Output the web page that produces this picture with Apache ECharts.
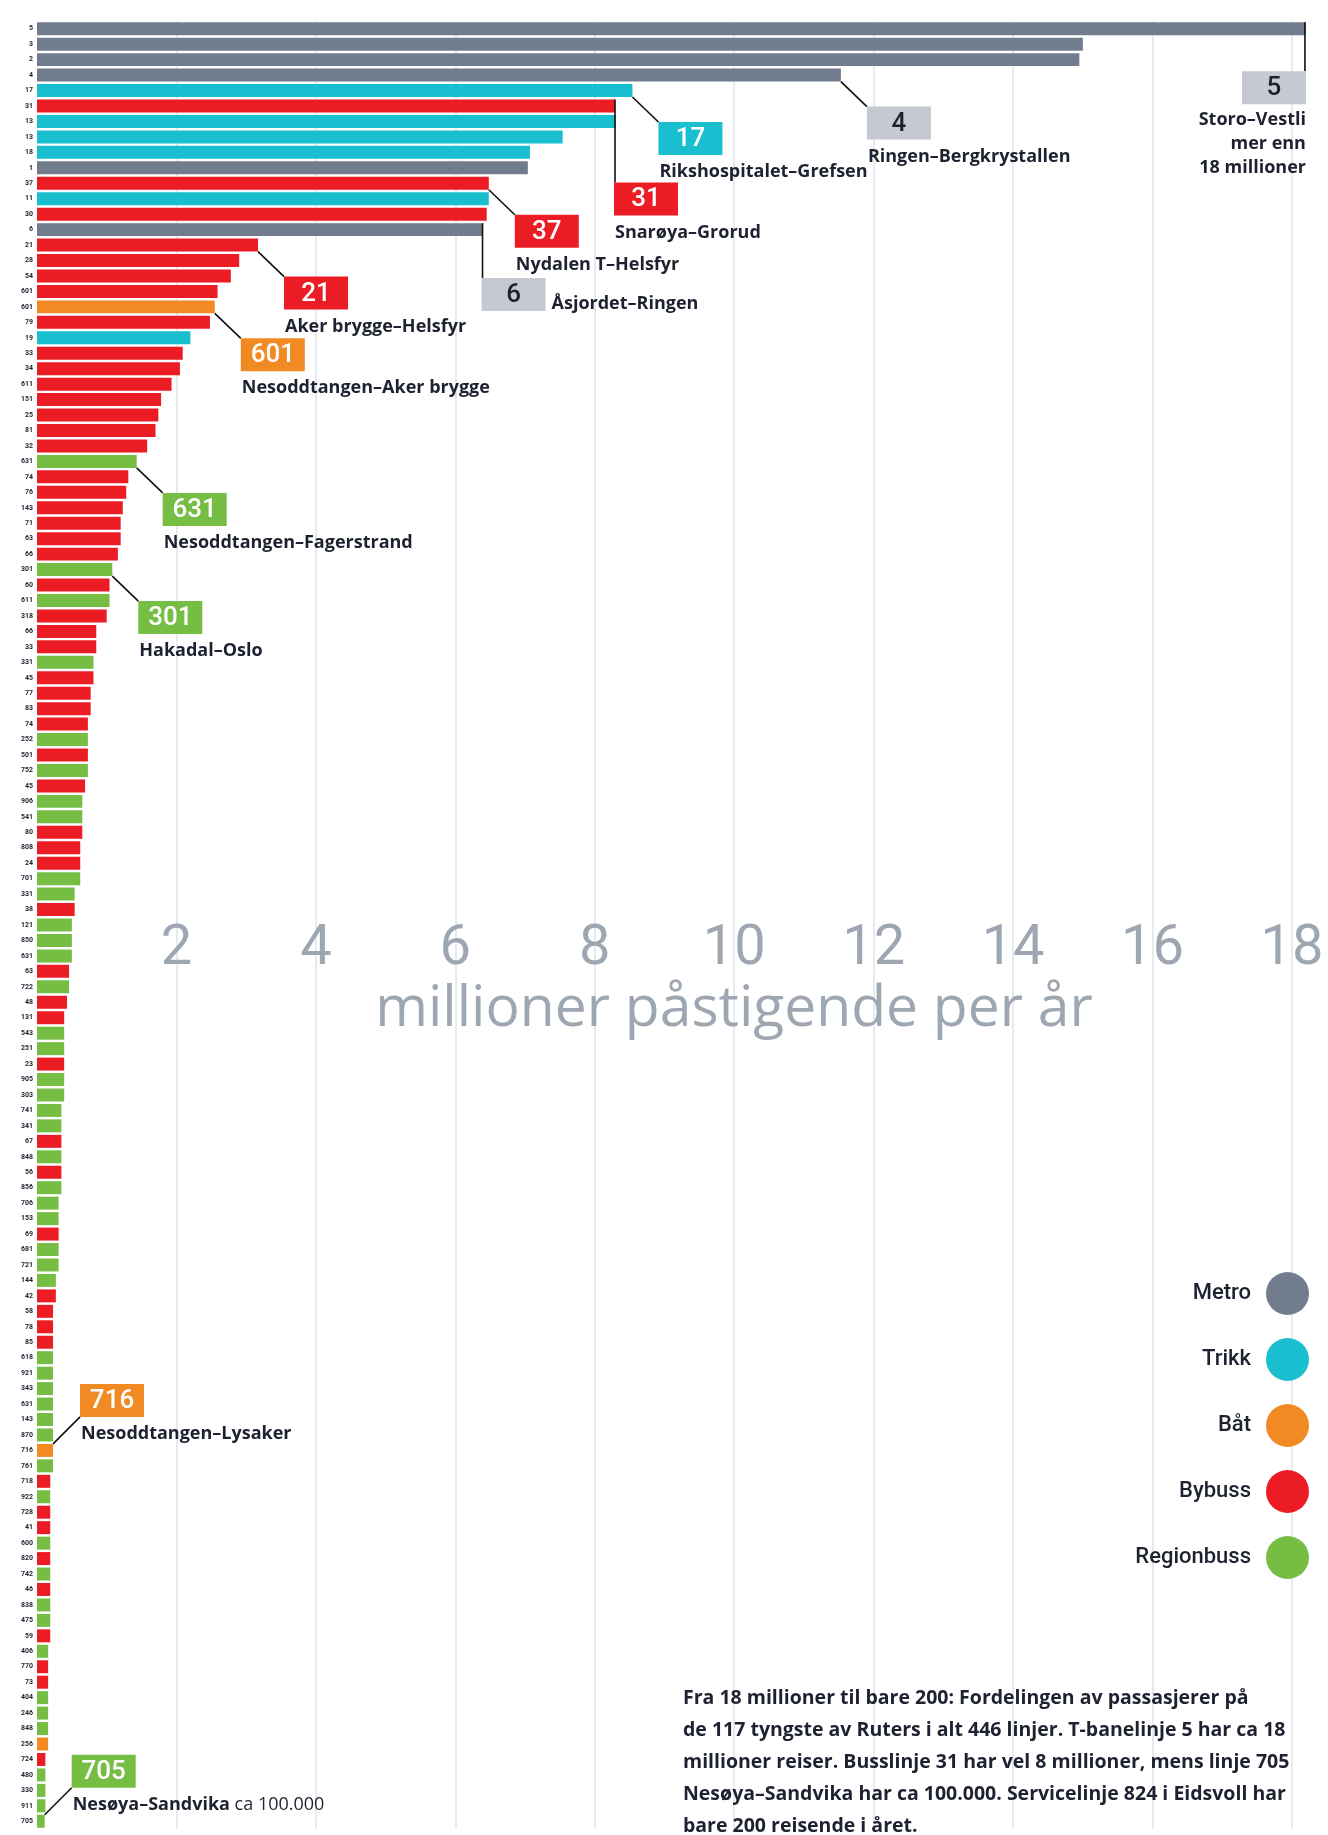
<!DOCTYPE html>
<html>
<head>
<meta charset="utf-8">
<script src="https://cdn.jsdelivr.net/npm/echarts/dist/echarts.min.js"></script>
<style>
  html, body { margin: 0; padding: 0; background: #fff; }
  #chart { width: 1328px; height: 1835px; }
</style>
</head>
<body>
<div id="chart"></div>
<script>
// line numbers, top to bottom (117 heaviest of Ruter's lines)
const lines = [
  '5', '3', '2', '4', '17', '31', '13', '13', '18', '1',
  '37', '11', '30', '6', '21', '28', '54', '601', '601', '79',
  '19', '33', '34', '611', '151', '25', '81', '32', '631', '74',
  '76', '143', '71', '63', '66', '301', '60', '611', '318', '66',
  '33', '331', '45', '77', '83', '74', '252', '501', '752', '45',
  '906', '541', '80', '808', '24', '701', '331', '38', '121', '850',
  '631', '63', '722', '48', '131', '543', '251', '23', '905', '303',
  '741', '341', '67', '848', '56', '856', '706', '153', '69', '681',
  '721', '144', '42', '58', '78', '85', '618', '921', '343', '631',
  '143', '870', '716', '761', '718', '922', '728', '41', '600', '820',
  '742', '46', '838', '475', '59', '406', '770', '73', '404', '246',
  '848', '256', '724', '480', '330', '911', '705'
]

// M = Metro, T = Trikk, B = Båt, U = Bybuss, R = Regionbuss
const types = [
  'M', 'M', 'M', 'M', 'T', 'U', 'T', 'T', 'T', 'M',
  'U', 'T', 'U', 'M', 'U', 'U', 'U', 'U', 'B', 'U',
  'T', 'U', 'U', 'U', 'U', 'U', 'U', 'U', 'R', 'U',
  'U', 'U', 'U', 'U', 'U', 'R', 'U', 'R', 'U', 'U',
  'U', 'R', 'U', 'U', 'U', 'U', 'R', 'U', 'R', 'U',
  'R', 'R', 'U', 'U', 'U', 'R', 'R', 'U', 'R', 'R',
  'R', 'U', 'R', 'U', 'U', 'R', 'R', 'U', 'R', 'R',
  'R', 'R', 'U', 'R', 'U', 'R', 'R', 'R', 'U', 'R',
  'R', 'R', 'U', 'U', 'U', 'U', 'R', 'R', 'R', 'R',
  'R', 'R', 'B', 'R', 'U', 'R', 'U', 'U', 'R', 'U',
  'R', 'U', 'R', 'R', 'U', 'R', 'U', 'U', 'R', 'R',
  'R', 'B', 'U', 'R', 'R', 'R', 'R'
]

// million boardings per year
const values = [
  18.2, 15.0, 14.95, 11.53, 8.54, 8.29, 8.3, 7.54, 7.07, 7.04,
  6.48, 6.48, 6.45, 6.39, 3.17, 2.9, 2.78, 2.59, 2.55, 2.48,
  2.2, 2.09, 2.05, 1.93, 1.78, 1.74, 1.7, 1.58, 1.43, 1.31,
  1.28, 1.23, 1.2, 1.2, 1.16, 1.08, 1.04, 1.04, 1.0, 0.85,
  0.85, 0.81, 0.81, 0.77, 0.77, 0.73, 0.73, 0.73, 0.73, 0.69,
  0.65, 0.65, 0.65, 0.62, 0.62, 0.62, 0.54, 0.54, 0.5, 0.5,
  0.5, 0.46, 0.46, 0.43, 0.39, 0.39, 0.39, 0.39, 0.39, 0.39,
  0.35, 0.35, 0.35, 0.35, 0.35, 0.35, 0.31, 0.31, 0.31, 0.31,
  0.31, 0.27, 0.27, 0.23, 0.23, 0.23, 0.23, 0.23, 0.23, 0.23,
  0.23, 0.23, 0.23, 0.23, 0.19, 0.19, 0.19, 0.19, 0.19, 0.19,
  0.19, 0.19, 0.19, 0.19, 0.19, 0.16, 0.16, 0.16, 0.16, 0.16,
  0.16, 0.16, 0.12, 0.12, 0.12, 0.12, 0.11
]

const typeCodes = ['M', 'T', 'B', 'U', 'R']
const typeNames = ['Metro', 'Trikk', 'Båt', 'Bybuss', 'Regionbuss']
const xTicks = [0, 2, 4, 6, 8, 10, 12, 14, 16, 18]

// highlighted lines: row index, route name
const annoRows = [0, 3, 4, 5, 10, 13, 14, 18, 28, 35, 92, 116]
const annoRoutes = [
  'Storo–Vestli\nmer enn\n18 millioner',
  'Ringen–Bergkrystallen',
  'Rikshospitalet–Grefsen',
  'Snarøya–Grorud',
  'Nydalen T–Helsfyr',
  'Åsjordet–Ringen',
  'Aker brygge–Helsfyr',
  'Nesoddtangen–Aker brygge',
  'Nesoddtangen–Fagerstrand',
  'Hakadal–Oslo',
  'Nesoddtangen–Lysaker',
  'Nesøya–Sandvika {n|ca 100.000}'
]

const colors = { M: '#717c8d', T: '#19bfcf', B: '#f28a24', U: '#ec1c24', R: '#76bd43' }
const FONT = "Roboto, 'Noto Sans', sans-serif"
const WIDE = "'Open Sans', Roboto, sans-serif"
const DARK = '#1e2230'

// how each callout sits relative to its bar
const annoLayout = [
  { kind: 'dropRight', dy: 36 },
  { kind: 'diag' },
  { kind: 'diag' },
  { kind: 'drop', dy: 70 },
  { kind: 'diag' },
  { kind: 'drop', dy: 42, side: true },
  { kind: 'diag' },
  { kind: 'diag' },
  { kind: 'diag' },
  { kind: 'diag' },
  { kind: 'up' },
  { kind: 'up' }
]

const BAR_RATIO = 0.84
const BOX_W = 64
const BOX_H = 33

function renderAnno(params, api) {
  const k = api.value(2)
  const row = annoRows[k]
  const t = types[row]
  const lay = annoLayout[k]
  const end = api.coord([api.value(0), api.value(1)])
  const rowH = api.size([0, 1])[1]
  const half = rowH * BAR_RATIO / 2
  let bx, by, from, to
  if (lay.kind === 'diag') {
    from = [end[0], end[1] + half]
    bx = end[0] + 26
    by = end[1] + half + 25
    to = [bx, by]
  } else if (lay.kind === 'drop') {
    from = [end[0], end[1] - half]
    bx = end[0] - 1
    by = end[1] + half + lay.dy
    to = [end[0], by]
  } else if (lay.kind === 'dropRight') {
    from = [end[0] - 1, end[1] - half]
    bx = end[0] - BOX_W
    by = end[1] + half + lay.dy
    to = [end[0] - 1, by]
  } else {
    from = [end[0], end[1] - half]
    bx = end[0] + 27
    by = end[1] - half - 27 - BOX_H
    to = [bx, by + BOX_H]
  }
  const isMetro = t === 'M'
  const children = [
    {
      type: 'line',
      shape: { x1: from[0], y1: from[1], x2: to[0], y2: to[1] },
      style: { stroke: '#111', lineWidth: 1.6 }
    },
    {
      type: 'rect',
      shape: { x: bx, y: by, width: BOX_W, height: BOX_H },
      style: { fill: isMetro ? '#c5c9d2' : colors[t] }
    },
    {
      type: 'text',
      style: {
        x: bx + BOX_W / 2, y: by + BOX_H / 2 + 1,
        text: lines[row],
        fill: isMetro ? DARK : '#fff',
        font: '500 26px ' + FONT,
        align: 'center', verticalAlign: 'middle'
      }
    }
  ]
  let route
  if (lay.kind === 'dropRight') {
    route = {
      x: bx + BOX_W, y: by + BOX_H + 4, text: annoRoutes[k],
      align: 'right', verticalAlign: 'top', lineHeight: 24
    }
  } else if (lay.side) {
    route = {
      x: bx + BOX_W + 6, y: by + BOX_H / 2 + 9, text: annoRoutes[k],
      align: 'left', verticalAlign: 'middle'
    }
  } else {
    route = {
      x: bx + 1, y: by + BOX_H + 8, text: annoRoutes[k],
      align: 'left', verticalAlign: 'top'
    }
  }
  route.fill = DARK
  route.font = 'bold 18px ' + WIDE
  route.rich = { n: { fontFamily: WIDE, fontSize: 18, fontWeight: 'normal', fill: DARK } }
  children.push({ type: 'text', style: route })
  return { type: 'group', children: children }
}

const barSeries = typeCodes.map((code, ti) => ({
  name: typeNames[ti],
  type: 'bar',
  stack: 'all',
  xAxisIndex: 0,
  yAxisIndex: 0,
  barCategoryGap: '16%',
  clip: false,
  itemStyle: { color: colors[code] },
  data: values.map((v, i) => (types[i] === code ? v : null)),
  silent: true
}))

const chart = echarts.init(document.getElementById('chart'))
chart.setOption({
  animation: false,
  backgroundColor: '#fff',
  textStyle: { fontFamily: FONT },
  title: [
    {
      text: 'millioner påstigende per år',
      left: 734,
      top: 981,
      padding: 0,
      textAlign: 'center',
      textStyle: { fontSize: 57, lineHeight: 57, fontWeight: 'normal', color: '#9ea7b1', fontFamily: WIDE }
    },
    {
      text: 'Fra 18 millioner til bare 200: Fordelingen av passasjerer på\n' +
        'de 117 tyngste av Ruters i alt 446 linjer. T-banelinje 5 har ca 18\n' +
        'millioner reiser. Busslinje 31 har vel 8 millioner, mens linje 705\n' +
        'Nesøya–Sandvika har ca 100.000. Servicelinje 824 i Eidsvoll har\n' +
        'bare 200 reisende i året.',
      left: 683,
      top: 1682,
      padding: 0,
      textStyle: { fontSize: 19.5, lineHeight: 32, fontWeight: 'bold', color: DARK, fontFamily: WIDE }
    }
  ],
  legend: {
    data: typeNames,
    orient: 'vertical',
    right: 14,
    top: 1267,
    align: 'right',
    icon: 'circle',
    itemWidth: 43,
    itemHeight: 43,
    itemGap: 23,
    selectedMode: false,
    textStyle: { fontSize: 22, color: DARK, fontWeight: 500, fontFamily: FONT, padding: [0, 10, 0, 0] }
  },
  grid: [
    { left: 37, right: 36, top: 21, bottom: 6 },
    { left: 37, right: 36, top: 880, height: 10 }
  ],
  xAxis: [
    {
      type: 'value',
      gridIndex: 0,
      min: xTicks[0],
      max: xTicks[xTicks.length - 1],
      interval: 2,
      position: 'top',
      axisLine: { show: false },
      axisTick: { show: false },
      axisLabel: { show: false },
      splitLine: { show: true, showMinLine: false, lineStyle: { color: '#e1e5ea', width: 1.6 } }
    },
    {
      type: 'value',
      gridIndex: 1,
      min: xTicks[0],
      max: xTicks[xTicks.length - 1],
      interval: 2,
      axisLine: { show: false },
      axisTick: { show: false },
      splitLine: { show: false },
      axisLabel: {
        showMinLabel: false,
        margin: 32,
        fontSize: 56,
        lineHeight: 56,
        color: '#9ea7b1',
        fontFamily: FONT
      }
    }
  ],
  yAxis: [
    {
      type: 'category',
      gridIndex: 0,
      data: lines,
      inverse: true,
      axisLine: { show: false },
      axisTick: { show: false },
      axisLabel: { interval: 0, margin: 4, fontSize: 7, fontWeight: 'bold', color: DARK, fontFamily: FONT }
    },
    {
      type: 'value',
      gridIndex: 0,
      show: false,
      inverse: true,
      min: -0.5,
      max: lines.length - 0.5
    },
    { type: 'value', gridIndex: 1, show: false }
  ],
  series: barSeries.concat([
    {
      type: 'custom',
      name: 'annotations',
      xAxisIndex: 0,
      yAxisIndex: 1,
      clip: false,
      silent: true,
      z: 10,
      encode: { x: 0, y: 1 },
      data: annoRows.map((r, k) => [values[r], r, k]),
      renderItem: renderAnno
    }
  ])
})
</script>
</body>
</html>
